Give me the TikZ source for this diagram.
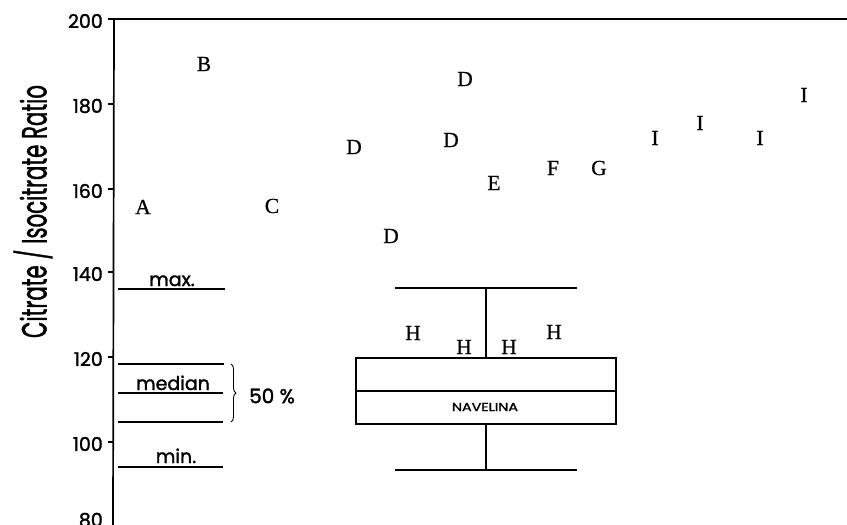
\documentclass[tikz,border=0pt]{standalone}
\usepackage{fontspec}
\setmainfont{Liberation Serif}[FakeBold=0.6]
\newfontfamily\chartsans{Poppins}[FakeBold=1.6]
\usetikzlibrary{decorations.pathreplacing}
\begin{document}
\begin{tikzpicture}[x=1pt,y=-1pt,
  axisline/.style={line width=1.7pt},
  plotline/.style={line width=1.5pt},
  legline/.style={line width=1.4pt},
  letter/.style={font=\fontsize{21.5}{21.5}\selectfont, inner sep=0pt},
  ticklabel/.style={font=\chartsans\fontsize{19}{19}\selectfont, anchor=east, inner sep=0pt},
  legtext/.style={font=\chartsans\fontsize{19}{19}\selectfont, anchor=base, inner sep=0pt}]
\useasboundingbox (0,0) rectangle (847,525);
\fill[white] (0,0) rectangle (847,525);

% axis frame
\coordinate (atop) at (114,19);
\coordinate (abot) at (113,527);
\coordinate (tright) at (847,19);
\draw[axisline] (abot) -- (atop) -- (tright);

% ticks and labels
\foreach \v/\yy in {200/19,180/104,160/189,140/272,120/357,100/442}{
  \coordinate (tk\v) at (113.5,\yy);
  \coordinate (tl\v) at (108,\yy);
  \draw[axisline] (tl\v) -- (tk\v);
  \node[ticklabel] (lab\v) at (103,\yy+2) {\v};
}
\node[ticklabel] (lab80) at (103,520) {80};

% axis title
\node[rotate=90, inner sep=0pt, font=\chartsans\fontsize{35}{35}\selectfont] (ytitle) at (33,211.5)
  {\resizebox{253pt}{\height}{Citrate / Isocitrate Ratio}};

% legend
\coordinate (lmaxL) at (118,289);  \coordinate (lmaxR) at (225,289);
\coordinate (lupL) at (118,364);   \coordinate (lupR) at (224,364);
\coordinate (lmedL) at (118,393);  \coordinate (lmedR) at (223,393);
\coordinate (llowL) at (118,422);  \coordinate (llowR) at (223,422);
\coordinate (lminL) at (118,467);  \coordinate (lminR) at (223,467);
\draw[legline] (lmaxL) -- (lmaxR);
\draw[legline] (lupL) -- (lupR);
\draw[legline] (lmedL) -- (lmedR);
\draw[legline] (llowL) -- (llowR);
\draw[legline] (lminL) -- (lminR);
\node[legtext] (tmax) at (172,286) {max.};
\node[legtext] (tmed) at (173,390) {median};
\node[legtext] (tmin) at (176,463) {min.};
\coordinate (brt) at (231,364);
\coordinate (brb) at (231,422);
\draw[line width=0.9pt, decorate, decoration={brace, amplitude=5pt}] (brt) -- (brb);
\node[inner sep=0pt, font=\chartsans\fontsize{20}{20}\selectfont] (fifty) at (272,396) {50 \%};

% box plot
\coordinate (bxTL) at (356,358);
\coordinate (bxBR) at (616,424);
\coordinate (medL) at (356,391);
\coordinate (medR) at (616,391);
\coordinate (wtop) at (486,288);
\coordinate (wtopB) at (486,358);
\coordinate (wbotT) at (486,424);
\coordinate (wbot) at (486,470);
\coordinate (ctL) at (395,288); \coordinate (ctR) at (577,288);
\coordinate (cbL) at (395,470); \coordinate (cbR) at (577,470);
\draw[plotline] (bxTL) rectangle (bxBR);
\draw[plotline] (medL) -- (medR);
\draw[plotline] (wtop) -- (wtopB);
\draw[plotline] (wbotT) -- (wbot);
\draw[plotline] (ctL) -- (ctR);
\draw[plotline] (cbL) -- (cbR);
\node[inner sep=0pt, font=\chartsans\fontsize{11.5}{11.5}\selectfont] (navel) at (485,407)
  {\resizebox{66pt}{\height}{NAVELINA}};

% letters
\node[letter] (A)  at (143,207) {A};
\node[letter] (B)  at (204,64)  {B};
\node[letter] (C)  at (272,206) {C};
\node[letter] (D1) at (354,147) {D};
\node[letter] (D2) at (465,79)  {D};
\node[letter] (D3) at (451,140) {D};
\node[letter] (D4) at (391,236) {D};
\node[letter] (E)  at (494,183) {E};
\node[letter] (F)  at (553,168) {F};
\node[letter] (G)  at (599,168) {G};
\node[letter] (I1) at (655,138) {I};
\node[letter] (I2) at (700,123) {I};
\node[letter] (I3) at (760,138) {I};
\node[letter] (I4) at (804,95)  {I};
\node[letter] (H1) at (413,333) {H};
\node[letter] (H2) at (464,347) {H};
\node[letter] (H3) at (509,347) {H};
\node[letter] (H4) at (554,332) {H};
\end{tikzpicture}
\end{document}
